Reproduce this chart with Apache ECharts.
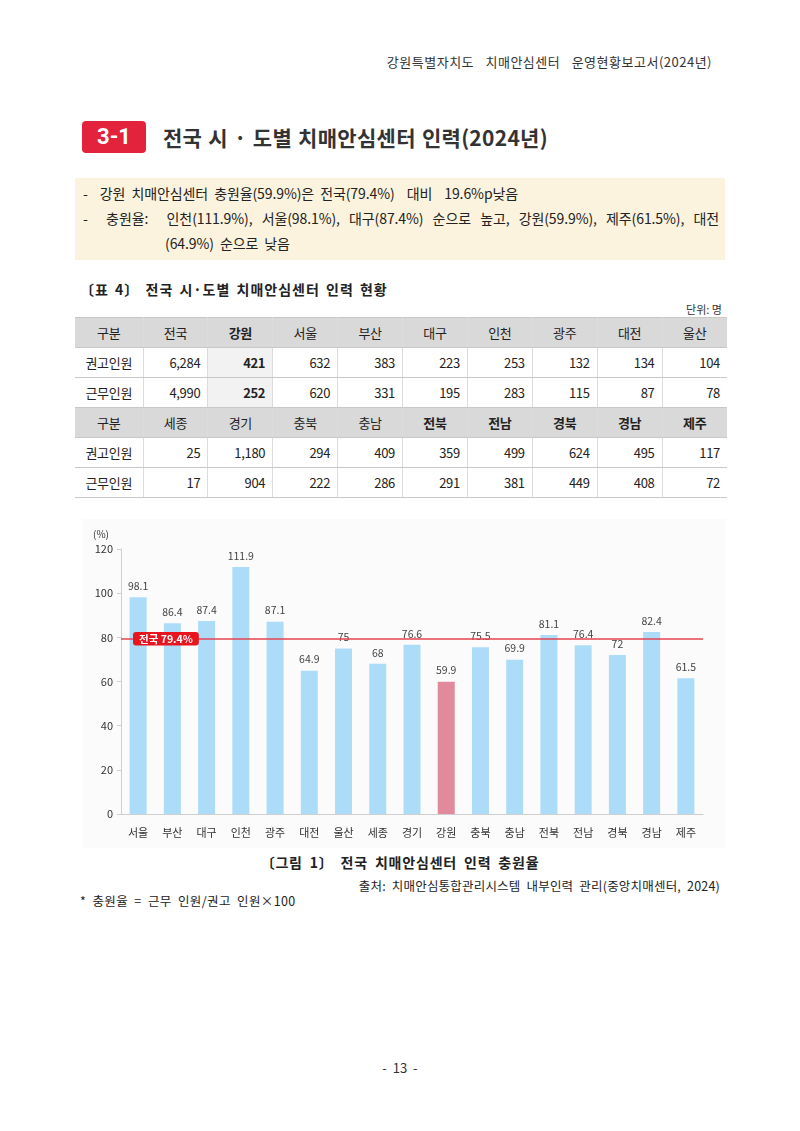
<!DOCTYPE html>
<html><head><meta charset="utf-8">
<script src="https://cdn.jsdelivr.net/npm/echarts@6/dist/echarts.min.js"></script>
<style>
html,body{margin:0;padding:0;background:#fff;}
body{width:800px;height:1131px;position:relative;font-family:"Noto Sans CJK KR","Noto Sans",sans-serif;color:#222;overflow:hidden;}
.abs{position:absolute;white-space:nowrap;}
#hdr{right:88px;top:52px;font-size:13px;color:#333;letter-spacing:0.5px;word-spacing:8px;}
#badge{left:82px;top:121px;width:64px;height:32px;background:#e3223b;border-radius:4px;color:#fff;font-weight:bold;font-size:22px;line-height:32px;text-align:center;font-family:"Roboto","Noto Sans",sans-serif;}
#ttl{left:163px;top:122px;font-size:21px;font-weight:bold;color:#333;line-height:30px;letter-spacing:0.3px;word-spacing:1px;}
#box{left:75px;top:178px;width:650px;height:82px;background:#fbf3dd;}
.bl{font-size:14px;color:#222;line-height:20px;letter-spacing:-0.1px;word-spacing:3px;}
#tcap{left:80px;top:279px;font-size:14px;font-weight:bold;color:#222;letter-spacing:1px;word-spacing:2px;}
#unit{right:78px;top:301px;font-size:11px;color:#333;}
table{position:absolute;left:75px;top:317px;width:652px;border-collapse:collapse;font-size:13px;color:#222;table-layout:fixed;}
td{height:29px;border-top:1px solid #c8c8c8;border-bottom:1px solid #c8c8c8;border-left:1px solid #dcdcdc;border-right:1px solid #dcdcdc;padding:0 7px;text-align:right;letter-spacing:-0.3px;}
td:first-child{border-left:none;text-align:center;}
td:last-child{border-right:none;}
tr.h td{background:#d9d9d9;text-align:center;}
td.gw{background:#f2f2f2;font-weight:bold;}
td.b{font-weight:bold;}
#chart{position:absolute;left:83px;top:519px;width:642px;height:329px;background:#fbfbfb;}
#fcap{left:0;width:800px;top:852px;text-align:center;font-size:14px;font-weight:bold;color:#222;letter-spacing:0.8px;word-spacing:3px;}
#src{right:80px;top:876px;font-size:12.5px;color:#222;letter-spacing:0.2px;word-spacing:3px;}
#note{left:80px;top:891px;font-size:12.5px;color:#222;letter-spacing:0.4px;word-spacing:3px;}
#pg{left:0;width:800px;top:1058px;text-align:center;font-size:13px;color:#333;word-spacing:3px;}
</style></head>
<body>
<div class="abs" id="hdr">강원특별자치도 치매안심센터 운영현황보고서(2024년)</div>
<div class="abs" id="badge">3-1</div>
<div class="abs" id="ttl">전국 시 · 도별 치매안심센터 인력(2024년)</div>
<div class="abs" id="box"></div>
<div class="abs bl" style="left:83px;top:183px;">-&nbsp;&nbsp;강원 치매안심센터 충원율(59.9%)은 전국(79.4%)&nbsp; 대비&nbsp; 19.6%p낮음</div>
<div class="abs bl" style="left:83px;top:208px;width:636px;text-align:justify;text-align-last:justify;white-space:normal;">-&nbsp;&nbsp;충원율:&nbsp;&nbsp;인천(111.9%), 서울(98.1%), 대구(87.4%) 순으로 높고, 강원(59.9%), 제주(61.5%), 대전</div>
<div class="abs bl" style="left:165px;top:233px;">(64.9%) 순으로 낮음</div>
<div class="abs" id="tcap">〔표 4〕 전국 시·도별 치매안심센터 인력 현황</div>
<div class="abs" id="unit">단위: 명</div>
<table id="tbl"></table>
<div id="chart"></div>
<div class="abs" id="fcap">〔그림 1〕 전국 치매안심센터 인력 충원율</div>
<div class="abs" id="src">출처: 치매안심통합관리시스템 내부인력 관리(중앙치매센터, 2024)</div>
<div class="abs" id="note">* 충원율 = 근무 인원/권고 인원×100</div>
<div class="abs" id="pg">- 13 -</div>
<script>
// ---- table data ----
var tableHead1 = ['전국','강원','서울','부산','대구','인천','광주','대전','울산'];
var recommend1 = ['6,284','421','632','383','223','253','132','134','104'];
var working1   = ['4,990','252','620','331','195','283','115','87','78'];
var tableHead2 = ['세종','경기','충북','충남','전북','전남','경북','경남','제주'];
var recommend2 = ['25','1,180','294','409','359','499','624','495','117'];
var working2   = ['17','904','222','286','291','381','449','408','72'];
var rowLabels  = ['구분','권고인원','근무인원'];

// ---- chart data ----
var regions = ['서울','부산','대구','인천','광주','대전','울산','세종','경기','강원','충북','충남','전북','전남','경북','경남','제주'];
var rates   = [98.1, 86.4, 87.4, 111.9, 87.1, 64.9, 75, 68, 76.6, 59.9, 75.5, 69.9, 81.1, 76.4, 72, 82.4, 61.5];
var nationalRate = 79.4;
var highlightRegion = '강원';
var yTicks = {min: 0, max: 120, interval: 20};

// build table
(function(){
  var t = document.getElementById('tbl');
  var html = '<colgroup><col style="width:68px">';
  for (var i=0;i<9;i++) html += '<col>';
  html += '</colgroup>';
  function sec(head, r1, r2, boldHead){
    var s = '<tr class="h"><td>'+rowLabels[0]+'</td>';
    head.forEach(function(h,i){ s += '<td'+(boldHead(i)?' class="b"':'')+'>'+h+'</td>'; });
    s += '</tr>';
    [r1,r2].forEach(function(r,ri){
      s += '<tr><td>'+rowLabels[ri+1]+'</td>';
      r.forEach(function(v,i){
        var gw = head[i]===highlightRegion;
        s += '<td'+(gw?' class="gw"':'')+'>'+v+'</td>';
      });
      s += '</tr>';
    });
    return s;
  }
  html += sec(tableHead1, recommend1, working1, function(i){return tableHead1[i]===highlightRegion;});
  html += sec(tableHead2, recommend2, working2, function(i){return i>=4;});
  t.innerHTML = html;
})();

var chart = echarts.init(document.getElementById('chart'), null, {renderer:'canvas'});
var fontFam = '"Noto Sans CJK KR","Noto Sans",sans-serif';
chart.setOption({
  animation:false,
  textStyle:{fontFamily:fontFam},
  grid:{left:38, top:30, width:582, height:265},
  xAxis:{
    type:'category', data:regions,
    axisLine:{lineStyle:{color:'#cfcfcf'}},
    axisTick:{show:false},
    axisLabel:{fontSize:11, color:'#333', margin:13, fontFamily:fontFam}
  },
  yAxis:{
    type:'value', min:yTicks.min, max:yTicks.max, interval:yTicks.interval,
    name:'(%)', nameGap:10,
    nameTextStyle:{fontSize:10, color:'#333', align:'right', padding:[0,12,0,0]},
    axisLine:{show:true, lineStyle:{color:'#cfcfcf'}},
    axisTick:{show:true, length:4, lineStyle:{color:'#cfcfcf'}},
    splitLine:{show:false},
    axisLabel:{fontSize:11, color:'#333', margin:8}
  },
  series:[{
    type:'bar', barWidth:17,
    data: rates.map(function(v,i){
      return regions[i]===highlightRegion ? {value:v, itemStyle:{color:'#e08a9b'}} : v;
    }),
    itemStyle:{color:'#addcf8'},
    label:{show:true, position:'top', distance:6, fontSize:10.5, color:'#444'},
    markLine:{
      silent:true, symbol:'none',
      lineStyle:{color:'#e64550', width:1.5, type:'solid'},
      label:{show:true, position:'insideStart', distance:12,
        formatter:function(p){return '전국 '+p.value+'%';},
        backgroundColor:'#e8141e', color:'#fff', fontWeight:'bold', fontSize:10.5,
        padding:[2,6,1,6], borderRadius:3},
      data:[{yAxis:nationalRate}]
    }
  }]
});
</script>
</body></html>
